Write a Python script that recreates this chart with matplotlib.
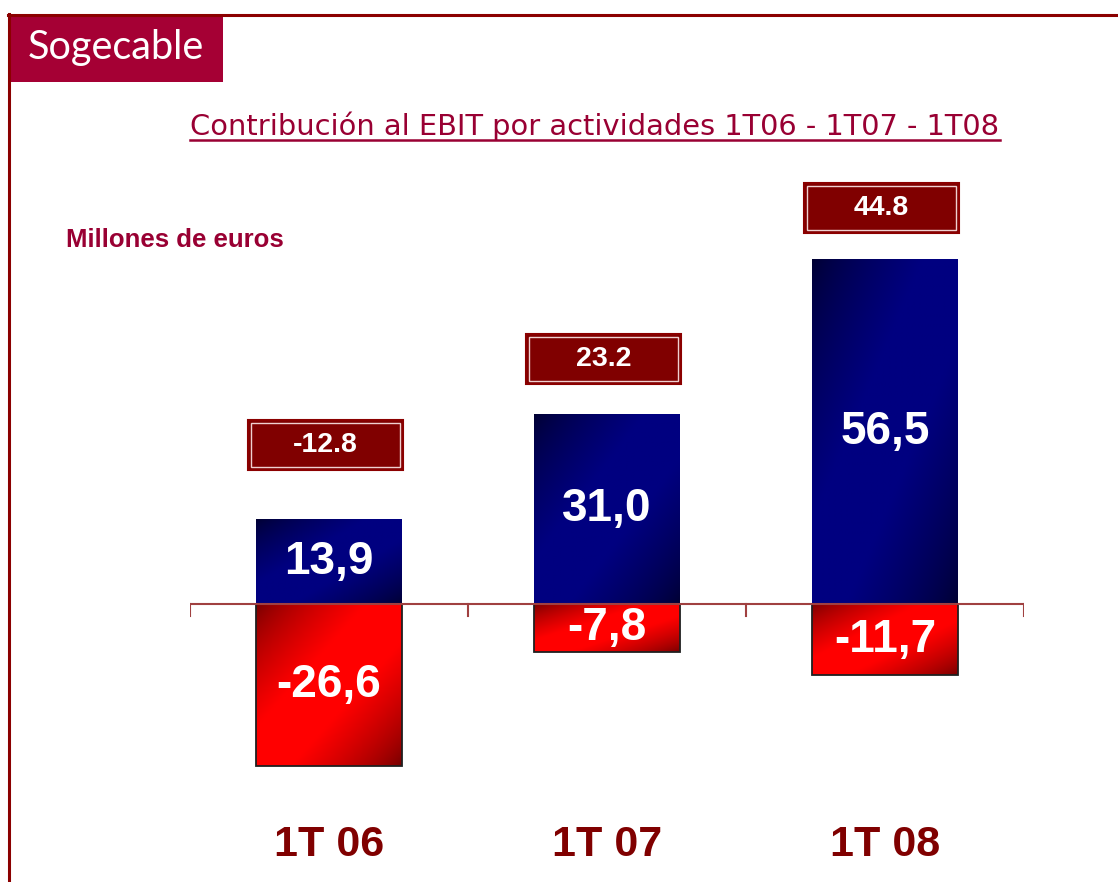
import numpy as np
import matplotlib
matplotlib.use("Agg")
import matplotlib.pyplot as plt
from matplotlib.patches import Rectangle
from matplotlib.colors import to_rgb
import matplotlib.transforms as mtransforms
from matplotlib import font_manager

# ---------------------------------------------------------------------------
# Data
# ---------------------------------------------------------------------------
periods   = ["1T 06", "1T 07", "1T 08"]
positive  = [13.9, 31.0, 56.5]       # blue bars
negative  = [-26.6, -7.8, -11.7]     # red bars
totals    = [-12.8, 23.2, 44.8]      # EBIT total (boxes)
pos_text  = ["13,9", "31,0", "56,5"]
neg_text  = ["-26,6", "-7,8", "-11,7"]
tot_text  = ["-12.8", "23.2", "44.8"]
box_gap   = [12.2, 9.2, 8.4]         # box centre above bar top (data units)

# ---------------------------------------------------------------------------
# Style
# ---------------------------------------------------------------------------
W, H = 1118, 882
DARK_RED = "#800000"
CRIMSON  = "#990033"
LOGO     = "#A50034"
AXIS_RED = "#A04040"

names = {f.name for f in font_manager.fontManager.ttflist}
NARROW = "Liberation Sans Narrow" if "Liberation Sans Narrow" in names else "Liberation Sans"

fig = plt.figure(figsize=(W / 100, H / 100), dpi=100)
fig.patch.set_facecolor("white")


def fx(px):
    return px / W


def fy(py):
    return 1 - py / H


# frame lines and logo
fig.add_artist(plt.Line2D([fx(8), 1], [fy(14.5), fy(14.5)], color="#8B0000", lw=2.2))
fig.add_artist(plt.Line2D([fx(9), fx(9)], [fy(14), 0], color="#8B0000", lw=2.2))
fig.add_artist(Rectangle((fx(9), fy(82)), fx(214), 67 / H, transform=fig.transFigure,
                         facecolor=LOGO, edgecolor="none"))
fig.text(fx(116), fy(47), "Sogecable", color="white", fontsize=28.5, family="Lato",
         ha="center", va="center")

# title with underline
title = fig.text(fx(595), fy(126), "Contribución al EBIT por actividades 1T06 - 1T07 - 1T08",
                 color=CRIMSON, fontsize=20.8, family="DejaVu Sans", ha="center", va="center")
fig.canvas.draw()
bb = title.get_window_extent()
fig.add_artist(plt.Line2D([bb.x0 / W, bb.x1 / W], [fy(140), fy(140)], color=CRIMSON, lw=1.8))

fig.text(fx(66), fy(240), "Millones de euros", color=CRIMSON, fontsize=18.5,
         family="Liberation Sans", weight="bold", ha="left", va="center")

# ---------------------------------------------------------------------------
# Main axes: zero at y=604px, 6.1 px per unit
# ---------------------------------------------------------------------------
PX = 6.1
top_px, bot_px = 150, 800
ax = fig.add_axes([fx(190), fy(bot_px), fx(1024 - 190), (bot_px - top_px) / H])
ax.set_xlim(-0.5, 2.5)
ax.set_ylim(-(bot_px - 604) / PX, (604 - top_px) / PX)
ax.axis("off")

x = np.arange(len(periods))
width = 146 / 278


def gradient_bar(ax, xc, y0, y1, dark, bright):
    ny, nx = 200, 100
    u = np.linspace(0, 1, nx)[None, :]
    v = np.linspace(0, 1, ny)[:, None]
    t = (u + v) / 2
    f = np.clip(np.minimum(t, 1 - t) / 0.38, 0, 1) ** 0.7
    d, b = np.array(to_rgb(dark)), np.array(to_rgb(bright))
    img = d[None, None, :] + (b - d)[None, None, :] * f[:, :, None]
    lo, hi = min(y0, y1), max(y0, y1)
    ax.imshow(img, extent=(xc - width / 2, xc + width / 2, lo, hi), origin="upper",
              aspect="auto", interpolation="bilinear", zorder=2)


for i in x:
    gradient_bar(ax, i, 0, positive[i], "#000030", "#000080")
    gradient_bar(ax, i, negative[i], 0, "#700000", "#ff0000")
    ax.add_patch(Rectangle((i - width / 2, negative[i]), width, -negative[i],
                           facecolor="none", edgecolor="#202020", lw=1.3, zorder=3))
    ax.text(i, positive[i] / 2, pos_text[i], color="white", fontsize=33, weight="bold",
            family="Liberation Sans", ha="center", va="center", zorder=5)
    ax.text(i, negative[i] / 2, neg_text[i], color="white", fontsize=33, weight="bold",
            family="Liberation Sans", ha="center", va="center", zorder=5)

    # total box
    bw, bh = 155 / 278, 50 / PX
    yc = positive[i] + box_gap[i]
    xc = i - 0.012
    ax.add_patch(Rectangle((xc - bw / 2, yc - bh / 2), bw, bh, facecolor=DARK_RED,
                           edgecolor="#8B0000", lw=1.5, zorder=4))
    ax.add_patch(Rectangle((xc - bw / 2 + 3 / 278, yc - bh / 2 + 3 / PX), bw - 6 / 278, bh - 6 / PX,
                           facecolor="none", edgecolor="#f0d0d0", lw=1.0, zorder=4))
    ax.text(xc, yc, tot_text[i], color="white", fontsize=20.5, weight="bold",
            family="Liberation Sans", ha="center", va="center", zorder=5)

# zero line with category separators
ax.plot([-0.5, 2.5], [0, 0], color=AXIS_RED, lw=1.5, zorder=6, solid_capstyle="butt")
for b in np.arange(-0.5, 3.0, 1.0):
    ax.plot([b, b], [0, -12 / PX], color=AXIS_RED, lw=1.5, zorder=6)

# category labels
trans = mtransforms.blended_transform_factory(ax.transData, fig.transFigure)
for i, p in enumerate(periods):
    ax.text(i, fy(845), p, transform=trans, color=DARK_RED, fontsize=31, weight="bold",
            family=NARROW, ha="center", va="center", clip_on=False)

fig.savefig("out.png", dpi=100)
